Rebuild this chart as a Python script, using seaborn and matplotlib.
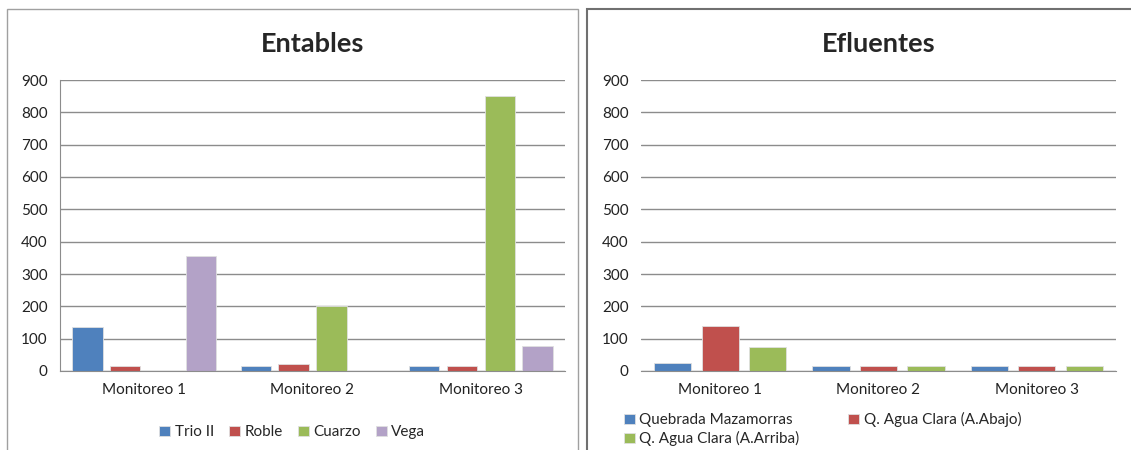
import pandas as pd
import matplotlib.pyplot as plt
import seaborn as sns
from matplotlib.patches import Rectangle

# Data
monitoreos = ['Monitoreo 1', 'Monitoreo 2', 'Monitoreo 3']

entables_series = ['Trio II', 'Roble', 'Cuarzo', 'Vega']
trio_ii = [135, 14, 14]
roble = [14, 22, 14]
cuarzo = [0, 200, 852]
vega = [355, 0, 78]

efluentes_series = ['Quebrada Mazamorras', 'Q. Agua Clara (A.Abajo)', 'Q. Agua Clara (A.Arriba)']
mazamorras = [25, 17, 17]
agua_abajo = [138, 17, 17]
agua_arriba = [73, 17, 17]

yticks = list(range(0, 1000, 100))

ent_colors = ['#4F81BD', '#C0504D', '#9BBB59', '#B3A2C7']
efl_colors = ['#4F81BD', '#C0504D', '#9BBB59']


def long_df(series, values):
    rows = []
    for name, vals in zip(series, values):
        for m, v in zip(monitoreos, vals):
            rows.append({'Monitoreo': m, 'Serie': name, 'Valor': v})
    return pd.DataFrame(rows)


df_ent = long_df(entables_series, [trio_ii, roble, cuarzo, vega])
df_efl = long_df(efluentes_series, [mazamorras, agua_abajo, agua_arriba])

sns.set_style('white')
plt.rcParams['font.family'] = ['Lato', 'DejaVu Sans']

fig = plt.figure(figsize=(11.31, 4.5), dpi=100)

# panel borders
fig.add_artist(Rectangle((7 / 1131, -0.01), 571 / 1131, 1 - 9 / 450 + 0.01,
                         transform=fig.transFigure, fill=False,
                         edgecolor='#A0A0A0', linewidth=1))
fig.add_artist(Rectangle((587 / 1131, -0.01), 0.6, 1 - 9 / 450 + 0.01,
                         transform=fig.transFigure, fill=False,
                         edgecolor='#707070', linewidth=1.5))

ax1 = fig.add_axes([60 / 1131, 1 - 371 / 450, 505 / 1131, 291 / 450])
ax2 = fig.add_axes([641 / 1131, 1 - 371 / 450, 475 / 1131, 291 / 450])

sns.barplot(data=df_ent, x='Monitoreo', y='Valor', hue='Serie',
            palette=ent_colors, width=0.9, gap=0.2, ax=ax1, saturation=1,
            linewidth=0.6, edgecolor='#E0E0E0')
sns.barplot(data=df_efl, x='Monitoreo', y='Valor', hue='Serie',
            palette=efl_colors, width=0.9, gap=0.22, ax=ax2, saturation=1,
            linewidth=0.6, edgecolor='#E0E0E0')

for ax, title in [(ax1, 'Entables'), (ax2, 'Efluentes')]:
    ax.set_ylim(0, 900)
    ax.set_yticks(yticks)
    ax.set_xlabel('')
    ax.set_ylabel('')
    ax.yaxis.grid(True, color='#8C8C8C', linewidth=1)
    ax.set_axisbelow(True)
    for s in ['top', 'right', 'left']:
        ax.spines[s].set_visible(False)
    ax.spines['bottom'].set_color('#8C8C8C')
    ax.tick_params(axis='both', length=0, labelsize=11, colors='#222222')
    ax.tick_params(axis='y', pad=9)
    ax.tick_params(axis='x', pad=9)
    ax.set_title(title, fontsize=19.5, fontweight='bold', pad=20)

ax1.spines['left'].set_visible(True)
ax1.spines['left'].set_color('#8C8C8C')

ax1.legend(loc='upper center', bbox_to_anchor=(0.46, -0.14), ncol=4,
           frameon=False, fontsize=11, handlelength=0.7, handleheight=0.7,
           handletextpad=0.3, columnspacing=1.0)

# row-major order for a 2-column legend
h, l = ax2.get_legend_handles_labels()
order = [0, 2, 1]
ax2.legend([h[i] for i in order], [l[i] for i in order],
           loc='upper left', bbox_to_anchor=(-0.065, -0.095), ncol=2,
           frameon=False, fontsize=11, handlelength=0.7, handleheight=0.7,
           handletextpad=0.3, columnspacing=3.2, labelspacing=0.25)

fig.savefig('out.png', dpi=100)
plt.close(fig)
